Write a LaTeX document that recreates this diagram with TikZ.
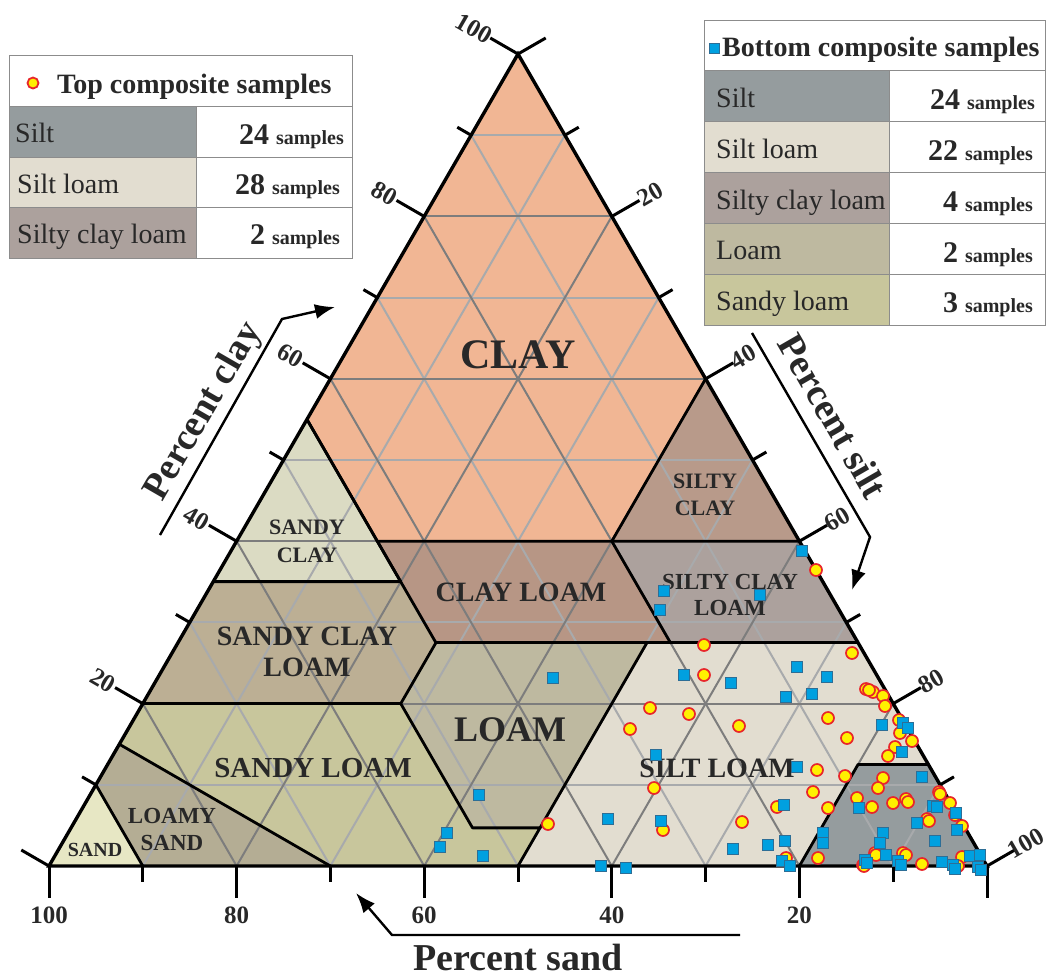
\documentclass[tikz,border=0pt]{standalone}
\usepackage{fontspec}
\setmainfont{Liberation Serif}
\usetikzlibrary{arrows.meta}
\definecolor{cClay}{RGB}{241,182,148}
\definecolor{cSiltyClay}{RGB}{184,154,138}
\definecolor{cSiltyClayLoam}{RGB}{172,161,157}
\definecolor{cClayLoam}{RGB}{183,150,133}
\definecolor{cSandyClay}{RGB}{219,219,195}
\definecolor{cSandyClayLoam}{RGB}{188,175,148}
\definecolor{cLoam}{RGB}{190,185,160}
\definecolor{cSiltLoam}{RGB}{226,221,208}
\definecolor{cSilt}{RGB}{149,156,158}
\definecolor{cSandyLoam}{RGB}{200,198,156}
\definecolor{cLoamySand}{RGB}{180,173,148}
\definecolor{cSand}{RGB}{231,231,196}
\definecolor{txt}{RGB}{40,40,40}
\definecolor{gdark}{RGB}{125,125,125}
\definecolor{glight}{RGB}{168,170,172}
\definecolor{ptred}{RGB}{232,38,42}
\definecolor{ptyellow}{RGB}{255,240,0}
\definecolor{sqblue}{RGB}{0,160,224}
\definecolor{sqedge}{RGB}{45,110,150}
\definecolor{tabline}{RGB}{140,140,140}
\newcommand\smp[1]{{\fontsize{30}{30}\selectfont\bfseries #1}\hspace{7pt}{\fontsize{20}{20}\selectfont\bfseries samples}}
\newcommand\tc[3]{\coordinate (#1) at ({tx(#2,#3)},{ty(#3)});}
\begin{document}
\begin{tikzpicture}[x=1pt,y=-1pt,
  declare function={tx(\s,\c)=49+9.38*\s+4.69*\c; ty(\c)=866-8.12*\c;},
  bnd/.style={draw=black,line width=2.8pt,line join=round},
  gridd/.style={draw=gdark,line width=2pt},
  gridl/.style={draw=glight,line width=2pt},
  tickmark/.style={draw=black,line width=3pt},
  ticklab/.style={font=\fontsize{25}{25}\selectfont\bfseries,text=txt,inner sep=0pt},
  cls/.style={font=\bfseries,text=txt,align=center,inner sep=0pt},
  axtitle/.style={font=\fontsize{38}{38}\selectfont\bfseries,text=txt,inner sep=0pt},
  axarrow/.style={draw=black,line width=2.4pt,-{Latex[length=20pt,width=15pt]}},
  top/.style={circle,draw=ptred,fill=ptyellow,line width=1.7pt,inner sep=0pt,minimum size=12pt},
  bot/.style={rectangle,draw=sqedge,fill=sqblue,line width=0.7pt,inner sep=0pt,minimum size=11.5pt},
  cell/.style={draw=tabline,line width=1pt},
  rowlab/.style={anchor=base west,font=\fontsize{28}{28}\selectfont,text=txt,inner sep=0pt},
  rownum/.style={anchor=base east,text=txt,inner sep=0pt},
  head/.style={anchor=base west,font=\fontsize{28}{28}\selectfont\bfseries,text=txt,inner sep=0pt}
]
\useasboundingbox (0,0) rectangle (1046,978);
% vertices
\tc{A}{0}{100}\tc{BL}{0}{0}\tc{BR}{100}{0}
\tc{p1}{40}{60}\tc{p2}{40}{40}\tc{p3}{15}{40}\tc{p4}{0}{55}\tc{p5}{60}{40}
\tc{p6}{20}{35}\tc{p7}{0}{35}\tc{p8}{52.5}{27.5}\tc{p9}{27.5}{27.5}\tc{p10}{72.5}{27.5}
\tc{p11}{27.5}{20}\tc{p12}{0}{20}\tc{p13}{50}{27.5}\tc{p14}{50}{4.7}\tc{p15}{42.8}{4.7}
\tc{p16}{50}{0}\tc{p17}{30}{0}\tc{p18}{0}{15}\tc{p19}{10}{0}\tc{p20}{0}{10}
\tc{p21}{87.5}{12.5}\tc{p22}{80}{12.5}\tc{p23}{80}{0}
% fills
\fill[cClay] (A)--(p1)--(p2)--(p3)--(p4)--cycle;
\fill[cSiltyClay] (p1)--(p5)--(p2)--cycle;
\fill[cSandyClay] (p4)--(p6)--(p7)--cycle;
\fill[cClayLoam] (p3)--(p2)--(p8)--(p9)--cycle;
\fill[cSiltyClayLoam] (p2)--(p5)--(p10)--(p8)--cycle;
\fill[cSandyClayLoam] (p7)--(p6)--(p9)--(p11)--(p12)--cycle;
\fill[cLoam] (p9)--(p13)--(p14)--(p15)--(p11)--cycle;
\fill[cSandyLoam] (p12)--(p11)--(p15)--(p14)--(p16)--(p17)--(p18)--cycle;
\fill[cLoamySand] (p18)--(p17)--(p19)--(p20)--cycle;
\fill[cSand] (BL)--(p19)--(p20)--cycle;
\fill[cSiltLoam] (p13)--(p10)--(p21)--(p22)--(p23)--(p16)--(p14)--cycle;
\fill[cSilt] (p22)--(p21)--(BR)--(p23)--cycle;
% grid
\foreach \k in {10,30,50,70,90} {
  \draw[gridl] ({tx(0,\k)},{ty(\k)}) -- ({tx(100-\k,\k)},{ty(\k)});
  \draw[gridl] ({tx(\k,0)},{ty(0)}) -- ({tx(\k,100-\k)},{ty(100-\k)});
  \draw[gridl] ({tx(100-\k,0)},{ty(0)}) -- ({tx(0,100-\k)},{ty(100-\k)});
}
\foreach \k in {20,40,60,80} {
  \draw[gridd] ({tx(0,\k)},{ty(\k)}) -- ({tx(100-\k,\k)},{ty(\k)});
  \draw[gridd] ({tx(\k,0)},{ty(0)}) -- ({tx(\k,100-\k)},{ty(100-\k)});
  \draw[gridd] ({tx(100-\k,0)},{ty(0)}) -- ({tx(0,100-\k)},{ty(100-\k)});
}
% boundaries
\draw[bnd] (p4)--(p3)--(p2)--(p5);
\draw[bnd] (p1)--(p2);
\draw[bnd] (p4)--(p6)--(p7);
\draw[bnd] (p3)--(p9)--(p11)--(p15)--(p14)--(p16);
\draw[bnd] (p7)--(p6);
\draw[bnd] (p9)--(p10);
\draw[bnd] (p8)--(p2);
\draw[bnd] (p12)--(p11);
\draw[bnd] (p13)--(p14);
\draw[bnd] (p18)--(p17);
\draw[bnd] (p20)--(p19);
\draw[bnd] (p23)--(p22)--(p21);
\draw[draw=black,line width=3.4pt,line join=miter] (A)--(BL)--(BR)--cycle;
% ticks
\foreach \s in {0,10,...,100} {
  \pgfmathsetmacro\L{mod(\s,20)==0?32:16}
  \draw[tickmark] ({tx(\s,0)},{ty(0)}) -- ++(0,\L);
  \draw[tickmark] ({tx(0,\s)},{ty(\s)}) -- ++({-0.866*\L},{-0.5*\L});
  \draw[tickmark] ({tx(\s,100-\s)},{ty(100-\s)}) -- ++({0.866*\L},{-0.5*\L});
}
% tick labels
\foreach \s/\v in {0/100,20/80,40/60,60/40,80/20}
  \node[ticklab] (b\v) at ({tx(\s,0)},915) {\v};
\foreach \c in {20,40,60,80}
  \node[ticklab,rotate=-30] (l\c) at ({tx(0,\c)-0.866*46},{ty(\c)-0.5*46}) {\c};
\node[ticklab,rotate=-30] (l100) at ({tx(0,100)-0.866*51},{ty(100)-0.5*51}) {100};
\foreach \s in {20,40,60,80}
  \node[ticklab,rotate=30] (r\s) at ({tx(\s,100-\s)+0.866*44},{ty(100-\s)-0.5*44}) {\s};
\node[ticklab,rotate=30] (r100) at ({tx(100,0)+0.866*45},{ty(0)-0.5*45}) {100};
% class labels
\node[cls,font=\fontsize{42}{42}\selectfont\bfseries] (tClay) at (518,355) {CLAY};
\node[cls,font=\fontsize{22}{27}\selectfont\bfseries] (tSiltyClay) at (705,495) {SILTY\\CLAY};
\node[cls,font=\fontsize{22}{28}\selectfont\bfseries] (tSandyClay) at (307,541) {SANDY\\CLAY};
\node[cls,font=\fontsize{28}{28}\selectfont\bfseries] (tClayLoam) at (521,592) {CLAY LOAM};
\node[cls,font=\fontsize{23}{26}\selectfont\bfseries] (tSCL) at (730,595) {SILTY CLAY\\LOAM};
\node[cls,font=\fontsize{28}{31}\selectfont\bfseries] (tSandyCL) at (307,652) {SANDY CLAY\\LOAM};
\node[cls,font=\fontsize{36}{36}\selectfont\bfseries] (tLoam) at (510,730) {LOAM};
\node[cls,font=\fontsize{29}{29}\selectfont\bfseries] (tSandyLoam) at (313,768) {SANDY LOAM};
\node[cls,font=\fontsize{28}{28}\selectfont\bfseries] (tSiltLoam) at (717,768) {SILT LOAM};
\node[cls,font=\fontsize{23}{27}\selectfont\bfseries] (tLoamySand) at (172,829) {LOAMY\\SAND};
\node[cls,font=\fontsize{20}{20}\selectfont\bfseries] (tSand) at (95,850) {SAND};
% axis titles and arrows
\coordinate (ca1) at (160,535); \coordinate (ca2) at (282,319); \coordinate (ca3) at (335,307);
\draw[axarrow] (ca1)--(ca2)--(ca3);
\node[axtitle,rotate=60] (tPClay) at (204,412) {Percent clay};
\coordinate (sa1) at (752,333); \coordinate (sa2) at (870,537); \coordinate (sa3) at (852,590);
\draw[axarrow] (sa1)--(sa2)--(sa3);
\node[axtitle,rotate=-60] (tPSilt) at (833,416) {Percent silt};
\coordinate (da1) at (740,935); \coordinate (da2) at (392,935); \coordinate (da3) at (356,893);
\draw[axarrow] (da1)--(da2)--(da3);
\node[axtitle,anchor=base] (tPSand) at (518,970) {Percent sand};
% top composite samples (circles)
\foreach \x/\y [count=\i] in {816/570,704/645,
 704/675,852/653,866/689,873/692,883/696,885/706,650/708,689/714,630/729,739/726,828/718,847/738,899/720,900/733,895/747,888/756,817/770,845/776,813/792,828/808,777/807,742/822,663/830,654/788,548/824,786/858,869/690,912/741,
 883/778,878/788,857/798,893/803,906/799,872/807,939/792,950/803,955/815,962/826,927/819,875/853,903/853,863/865,922/864,962/857,958/866,818/858,908/802,929/821,876/855,906/855,864/866,940/794}
  \node[top] (c\i) at (\x,\y) {};
% bottom composite samples (squares)
\foreach \x/\y [count=\i] in {802/551,664/591,760/595,660/610,
 553/678,479/795,
 447/833,440/847,483/856,
 684/675,731/683,797/667,827/677,786/697,812/694,656/755,797/767,882/725,903/723,908/728,902/752,608/819,661/821,733/849,768/845,784/805,785/841,782/861,790/866,601/866,626/868,
 922/777,859/808,933/806,956/813,957/830,917/823,883/833,880/843,886/855,865/860,823/833,823/843,935/841,898/861,942/862,953/865,970/856,980/855,978/867,955/869,901/865,867/863,937/807,981/870}
  \node[bot] (q\i) at (\x,\y) {};
% legend 1
\fill[white] (9,55) rectangle (352,258);
\fill[cSilt] (9,106) rectangle (196,157);
\fill[cSiltLoam] (9,157) rectangle (196,207);
\fill[cSiltyClayLoam] (9,207) rectangle (196,258);
\draw[cell] (9,55) rectangle (352,258);
\draw[cell] (9,106)--(352,106) (9,157)--(352,157) (9,207)--(352,207) (196,106)--(196,258);
\node[top,minimum size=11pt,line width=1.8pt] (k1) at (33,83) {};
\node[head] (h1) at (57,93) {Top composite samples};
\node[rowlab] (a1) at (15,142) {Silt};
\node[rowlab] (a2) at (17,193) {Silt loam};
\node[rowlab] (a3) at (17,243) {Silty clay loam};
\node[rownum] (n1) at (344,144) {\smp{24}};
\node[rownum] (n2) at (340,194) {\smp{28}};
\node[rownum] (n3) at (340,244) {\smp{2}};
% legend 2
\fill[white] (704,20) rectangle (1045,325);
\fill[cSilt] (704,70) rectangle (889,121);
\fill[cSiltLoam] (704,121) rectangle (889,172);
\fill[cSiltyClayLoam] (704,172) rectangle (889,223);
\fill[cLoam] (704,223) rectangle (889,274);
\fill[cSandyLoam] (704,274) rectangle (889,325);
\draw[cell] (704,20) rectangle (1045,325);
\draw[cell] (704,70)--(1045,70) (704,121)--(1045,121) (704,172)--(1045,172) (704,223)--(1045,223) (704,274)--(1045,274) (889,70)--(889,325);
\node[bot,minimum size=10pt] (k2) at (714,48) {};
\node[head] (h2) at (722,56) {Bottom composite samples};
\node[rowlab] (b1) at (716,107) {Silt};
\node[rowlab] (b2) at (716,158) {Silt loam};
\node[rowlab] (b3) at (716,209) {Silty clay loam};
\node[rowlab] (b4) at (716,259) {Loam};
\node[rowlab] (b5) at (716,310) {Sandy loam};
\node[rownum] (m1) at (1035,109) {\smp{24}};
\node[rownum] (m2) at (1033,160) {\smp{22}};
\node[rownum] (m3) at (1033,211) {\smp{4}};
\node[rownum] (m4) at (1033,262) {\smp{2}};
\node[rownum] (m5) at (1033,312) {\smp{3}};
\end{tikzpicture}
\end{document}
